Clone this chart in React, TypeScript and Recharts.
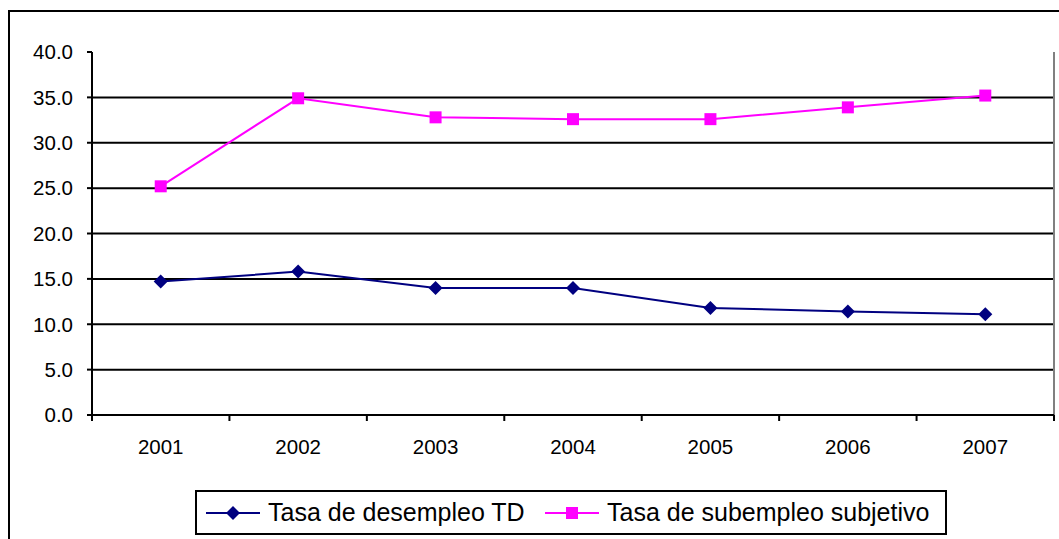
import { CartesianGrid, Legend, Line, LineChart, XAxis, YAxis } from "recharts"

const years = ["2001", "2002", "2003", "2004", "2005", "2006", "2007"]
const desempleo = [14.7, 15.8, 14.0, 14.0, 11.8, 11.4, 11.1]
const subempleo = [25.2, 34.9, 32.8, 32.6, 32.6, 33.9, 35.2]
const yTicks = [0, 5, 10, 15, 20, 25, 30, 35, 40]
const gridValues = [5, 10, 15, 20, 25, 30, 35]

const NAVY = "#000080"
const PINK = "#FF00FF"
const FONT = "'Liberation Sans', Arial, sans-serif"

const W = 1059
const H = 539
const Y_AXIS_W = 92
const RIGHT_W = 5
const BAND = (W - Y_AXIS_W - RIGHT_W) / years.length

const data = years.map((year, i) => ({
  year,
  td: desempleo[i],
  sub: subempleo[i],
}))

function Diamond(props: any) {
  const { cx, cy, index } = props
  if (cx == null || cy == null) return null
  const r = 7
  return (
    <path
      key={`d-${index}`}
      d={`M${cx},${cy - r}L${cx + r},${cy}L${cx},${cy + r}L${cx - r},${cy}Z`}
      fill={NAVY}
    />
  )
}

function Square(props: any) {
  const { cx, cy, index } = props
  if (cx == null || cy == null) return null
  const s = 12
  return <rect key={`s-${index}`} x={cx - s / 2} y={cy - s / 2} width={s} height={s} fill={PINK} />
}

function YearTick(props: any) {
  const { x, y, payload, index } = props
  const last = index === years.length - 1
  return (
    <g>
      <line x1={x - BAND / 2} y1={y} x2={x - BAND / 2} y2={y + 6} stroke="#000" strokeWidth={2} />
      {last && <line x1={x + BAND / 2} y1={y} x2={x + BAND / 2} y2={y + 6} stroke="#000" strokeWidth={2} />}
      <text x={x} y={y + 39} textAnchor="middle" fontSize={20.5} fill="#000" fontFamily={FONT}>
        {payload.value}
      </text>
    </g>
  )
}

function LegendBox() {
  const item = (left: number, color: string, square: boolean, label: string) => (
    <div style={{ position: "absolute", left, top: 0, height: 41, display: "flex", alignItems: "center" }}>
      <svg width={54} height={16} style={{ display: "block" }}>
        <line x1={0} y1={8} x2={54} y2={8} stroke={color} strokeWidth={2} />
        {square ? (
          <rect x={21} y={2} width={12} height={12} fill={color} />
        ) : (
          <path d="M27,1L34,8L27,15L20,8Z" fill={color} />
        )}
      </svg>
      <span style={{ marginLeft: 8, fontSize: 25, fontFamily: FONT, color: "#000", whiteSpace: "nowrap" }}>
        {label}
      </span>
    </div>
  )
  return (
    <div
      style={{
        position: "relative",
        width: 752,
        height: 45,
        boxSizing: "border-box",
        border: "2px solid #000",
        background: "#fff",
      }}
    >
      {item(9, NAVY, false, "Tasa de desempleo TD")}
      {item(348, PINK, true, "Tasa de subempleo subjetivo")}
    </div>
  )
}

export default function App() {
  return (
    <div
      style={{
        position: "absolute",
        left: 0,
        top: 0,
        width: W,
        height: H,
        overflow: "hidden",
        background: "#fff",
      }}
    >
      <div
        style={{
          position: "absolute",
          left: 8,
          top: 10,
          width: W + 20,
          height: H + 20,
          border: "2px solid #000",
        }}
      />
      <LineChart
        width={W}
        height={H}
        data={data}
        margin={{ top: 52, right: 0, left: 0, bottom: 4 }}
        style={{ fontFamily: FONT }}
      >
        <CartesianGrid horizontal vertical={false} horizontalValues={gridValues} stroke="#000" strokeWidth={2} />
        <XAxis
          xAxisId="top"
          dataKey="year"
          orientation="top"
          scale="band"
          height={0}
          tick={false}
          tickLine={false}
          axisLine={{ stroke: "#808080", strokeWidth: 3 }}
        />
        <YAxis
          yAxisId="right"
          orientation="right"
          domain={[0, 40]}
          width={RIGHT_W}
          tick={false}
          tickLine={false}
          axisLine={{ stroke: "#808080", strokeWidth: 2 }}
        />
        <XAxis
          dataKey="year"
          scale="band"
          height={75}
          tickSize={0}
          tickMargin={0}
          tickLine={false}
          axisLine={{ stroke: "#000", strokeWidth: 2 }}
          tick={<YearTick />}
          interval={0}
        />
        <YAxis
          domain={[0, 40]}
          ticks={yTicks}
          width={Y_AXIS_W}
          tickSize={5}
          tickMargin={14}
          tickFormatter={(v: number) => v.toFixed(1)}
          tick={{ fontSize: 20.5, fill: "#000", fontFamily: FONT }}
          tickLine={{ stroke: "#000", strokeWidth: 2 }}
          axisLine={{ stroke: "#000", strokeWidth: 2 }}
        />
        <Legend
          verticalAlign="bottom"
          content={<LegendBox />}
          wrapperStyle={{ left: 195, bottom: 4, width: 752, height: 45 }}
        />
        <Line
          dataKey="td"
          name="Tasa de desempleo TD"
          stroke={NAVY}
          strokeWidth={2}
          dot={Diamond}
          activeDot={false}
          isAnimationActive={false}
        />
        <Line
          dataKey="sub"
          name="Tasa de subempleo subjetivo"
          stroke={PINK}
          strokeWidth={2}
          dot={Square}
          activeDot={false}
          isAnimationActive={false}
        />
      </LineChart>
    </div>
  )
}
